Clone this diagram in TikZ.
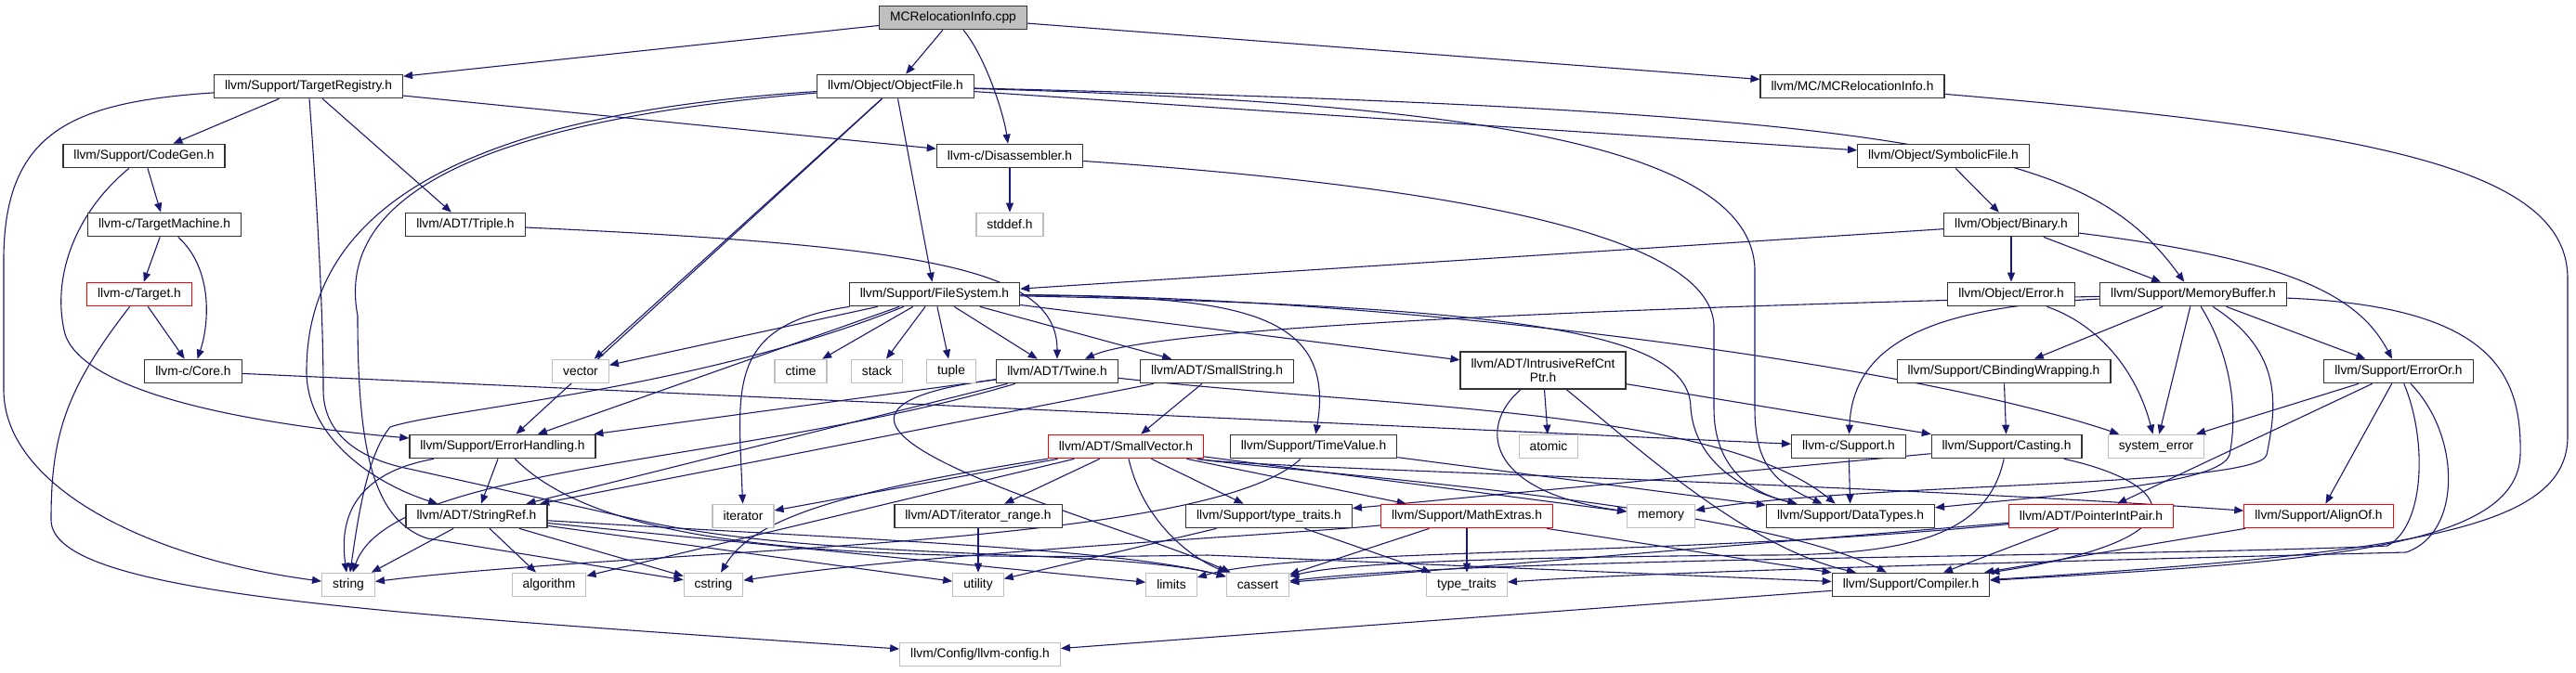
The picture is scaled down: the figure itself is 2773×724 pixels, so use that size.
\documentclass[tikz,border=0pt]{standalone}
\usepackage{fontspec}
\setmainfont{Liberation Sans}
\usetikzlibrary{arrows.meta, backgrounds}
\definecolor{midblue}{HTML}{191970}
\definecolor{sysgray}{HTML}{BFBFBF}
\newcommand{\graphfont}{\fontsize{13.8pt}{15.5pt}\selectfont}
\tikzset{
  hdr/.style={draw=black!80, fill=white, font=\graphfont, line width=1.2pt,
              minimum height=25.5pt, inner xsep=11.5pt, inner ysep=0pt},
  flow/.style={-{Triangle[length=10pt,width=8pt]}, line width=1.1pt, color=midblue},
}

\begin{document}
\begin{tikzpicture}[x=1pt, y=-1pt,
        sys/.style={hdr,draw=sysgray},
        trunc/.style={hdr,draw=red},
        root/.style={hdr,fill=sysgray}]
  \useasboundingbox (0,0) rectangle (2773,724);
  \node[root] (main) at (1026,19) {MCRelocationInfo.cpp};
  \node[hdr] (treg) at (332,93) {llvm/Support/TargetRegistry.h};
  \node[hdr] (objf) at (964,93) {llvm/Object/ObjectFile.h};
  \node[hdr] (mcri) at (1994,93) {llvm/MC/MCRelocationInfo.h};
  \node[hdr] (cgen) at (155,168) {llvm/Support/CodeGen.h};
  \node[hdr] (disa) at (1087,168) {llvm-c/Disassembler.h};
  \node[hdr] (symf) at (2092,168) {llvm/Object/SymbolicFile.h};
  \node[hdr] (tmach) at (177,242) {llvm-c/TargetMachine.h};
  \node[hdr] (triple) at (501,242) {llvm/ADT/Triple.h};
  \node[sys] (stddef) at (1087,242) {stddef.h};
  \node[hdr] (binary) at (2165,242) {llvm/Object/Binary.h};
  \node[trunc] (target) at (150,317) {llvm-c/Target.h};
  \node[hdr] (fsys) at (1006,317) {llvm/Support/FileSystem.h};
  \node[hdr] (oerr) at (2165,317) {llvm/Object/Error.h};
  \node[hdr] (membuf) at (2361,317) {llvm/Support/MemoryBuffer.h};
  \node[hdr] (core) at (208,400) {llvm-c/Core.h};
  \node[sys] (vector) at (625,400) {vector};
  \node[sys] (ctime) at (862,400) {ctime};
  \node[sys] (stack) at (944,400) {stack};
  \node[sys] (tuple) at (1024,400) {tuple};
  \node[hdr] (twine) at (1138,400) {llvm/ADT/Twine.h};
  \node[hdr] (sstr) at (1310,400) {llvm/ADT/SmallString.h};
  \node[hdr,align=center,minimum height=40pt] (irc) at (1661,399) {llvm/ADT/IntrusiveRefCnt\\Ptr.h};
  \node[hdr] (cbw) at (2157,400) {llvm/Support/CBindingWrapping.h};
  \node[hdr] (erroror) at (2582,400) {llvm/Support/ErrorOr.h};
  \node[hdr] (errh) at (541,481) {llvm/Support/ErrorHandling.h};
  \node[trunc] (svec) at (1212,481) {llvm/ADT/SmallVector.h};
  \node[hdr] (tval) at (1414,481) {llvm/Support/TimeValue.h};
  \node[sys] (atomic) at (1667,481) {atomic};
  \node[hdr] (csup) at (1990,481) {llvm-c/Support.h};
  \node[hdr] (cast) at (2160,481) {llvm/Support/Casting.h};
  \node[sys] (syserr) at (2321,481) {system\_error};
  \node[hdr] (sref) at (513,556) {llvm/ADT/StringRef.h};
  \node[sys] (iter) at (800,556) {iterator};
  \node[hdr] (irange) at (1053,556) {llvm/ADT/iterator\_range.h};
  \node[hdr] (ttraitsh) at (1366,556) {llvm/Support/type\_traits.h};
  \node[trunc] (mathx) at (1579,556) {llvm/Support/MathExtras.h};
  \node[sys] (memory) at (1788,556) {memory};
  \node[hdr] (dtypes) at (1992,556) {llvm/Support/DataTypes.h};
  \node[trunc] (pip) at (2251,556) {llvm/ADT/PointerIntPair.h};
  \node[trunc] (alignof) at (2496,556) {llvm/Support/AlignOf.h};
  \node[sys] (string) at (375,630) {string};
  \node[sys] (algo) at (591,630) {algorithm};
  \node[sys] (cstring) at (768,630) {cstring};
  \node[sys] (utility) at (1053,630) {utility};
  \node[sys] (limits) at (1261,630) {limits};
  \node[sys] (cassert) at (1354,630) {cassert};
  \node[sys] (ttraits) at (1579,630) {type\_traits};
  \node[hdr] (compiler) at (2057,630) {llvm/Support/Compiler.h};
  \node[sys] (lconf) at (1055,705) {llvm/Config/llvm-config.h};
  \begin{scope}[on background layer]
  \draw[flow] (main) -- (treg);
  \draw[flow] (main) -- (objf);
  \draw[flow] (main) .. controls (1060,60) and (1080,120) .. (disa);
  \draw[flow] (main) -- (mcri);
  \draw[flow] (treg) -- (cgen);
  \draw[flow] (treg) -- (triple);
  \draw[flow] (treg) -- (disa);
  \draw[flow] (treg) .. controls (80,110) and (4,140) .. (4,280) -- (4,420) .. controls (4,520) and (150,600) .. (string);
  \draw[flow] (treg) .. controls (340,200) and (348,330) .. (348,420) .. controls (348,470) and (390,495) .. (440,505) -- (700,563) .. controls (900,605) and (1200,590) .. (cassert);
  \draw[flow] (cgen) -- (tmach);
  \draw[flow] (cgen) .. controls (80,230) and (55,300) .. (70,360) .. controls (90,420) and (250,455) .. (errh);
  \draw[flow] (tmach) -- (target);
  \draw[flow] (tmach) .. controls (230,290) and (225,350) .. (core);
  \draw[flow] (target) -- (core);
  \draw[flow] (target) .. controls (70,420) and (55,470) .. (55,560) .. controls (55,640) and (400,660) .. (lconf);
  \draw[flow] (core) -- (csup);
  \draw[flow] (triple) .. controls (1000,265) and (1138,290) .. (twine);
  \draw[flow] (disa) -- (stddef);
  \draw[flow] (disa) .. controls (1550,200) and (1840,250) .. (1845,350) -- (1845,440) .. controls (1845,500) and (1880,530) .. (dtypes);
  \draw[flow] (objf) -- (fsys);
  \draw[flow] (objf) -- (symf);
  \draw[flow] (objf) .. controls (2100,120) and (2250,165) .. (membuf);
  \draw[flow] (objf) .. controls (1550,110) and (1885,150) .. (1889,290) -- (1889,440) .. controls (1889,500) and (1910,520) .. (dtypes);
  \draw[flow] (objf) -- (errh);
  \draw[flow] (objf) -- (vector);
  \draw[flow] (objf) .. controls (550,120) and (330,200) .. (330,400) .. controls (330,470) and (400,520) .. (sref);
  \draw[flow] (objf) .. controls (520,130) and (360,210) .. (385,340) .. controls (385,480) and (400,560) .. (460,580) -- (cstring);
  \draw[flow] (symf) -- (binary);
  \draw[flow] (binary) -- (fsys);
  \draw[flow] (binary) -- (oerr);
  \draw[flow] (binary) -- (membuf);
  \draw[flow] (binary) .. controls (2470,280) and (2540,320) .. (erroror);
  \draw[flow] (oerr) .. controls (2260,350) and (2300,400) .. (syserr);
  \draw[flow] (fsys) -- (ctime);
  \draw[flow] (fsys) -- (stack);
  \draw[flow] (fsys) -- (tuple);
  \draw[flow] (fsys) -- (twine);
  \draw[flow] (fsys) -- (sstr);
  \draw[flow] (fsys) -- (vector);
  \draw[flow] (fsys) -- (errh);
  \draw[flow] (fsys) -- (irc);
  \draw[flow] (fsys) .. controls (750,420) and (480,440) .. (420,460) .. controls (395,490) and (385,560) .. (string);
  \draw[flow] (fsys) .. controls (780,350) and (795,420) .. (iter);
  \draw[flow] (fsys) .. controls (1500,320) and (2050,390) .. (syserr);
  \draw[flow] (fsys) .. controls (1320,320) and (1440,330) .. (tval);
  \draw[flow] (fsys) .. controls (1650,330) and (1820,360) .. (1820,440) .. controls (1825,500) and (1880,530) .. (dtypes);
  \draw[flow] (membuf) .. controls (1800,330) and (1250,350) .. (twine);
  \draw[flow] (membuf) .. controls (2100,330) and (1995,360) .. (csup);
  \draw[flow] (membuf) -- (cbw);
  \draw[flow] (membuf) -- (syserr);
  \draw[flow] (membuf) -- (erroror);
  \draw[flow] (membuf) .. controls (2400,380) and (2410,440) .. (2400,490) .. controls (2390,520) and (2250,530) .. (dtypes);
  \draw[flow] (membuf) .. controls (2460,380) and (2450,440) .. (2440,490) .. controls (2430,525) and (2000,520) .. (memory);
  \draw[flow] (membuf) .. controls (2680,330) and (2715,400) .. (2713,490) .. controls (2710,590) and (2500,605) .. (compiler);
  \draw[flow] (mcri) .. controls (2550,140) and (2764,180) .. (2764,300) -- (2764,470) .. controls (2764,570) and (2600,595) .. (compiler);
  \draw[flow] (erroror) -- (syserr);
  \draw[flow] (erroror) -- (alignof);
  \draw[flow] (erroror) -- (pip);
  \draw[flow] (erroror) .. controls (2612,470) and (2612,565) .. (2570,588) .. controls (2300,600) and (1600,600) .. (cassert);
  \draw[flow] (erroror) .. controls (2650,470) and (2650,575) .. (2590,595) .. controls (2200,605) and (1800,615) .. (ttraits);
  \draw[flow] (cbw) -- (cast);
  \draw[flow] (cast) -- (ttraitsh);
  \draw[flow] (cast) .. controls (2140,575) and (2060,598) .. (1900,598) .. controls (1650,600) and (1450,605) .. (cassert);
  \draw[flow] (cast) .. controls (2340,520) and (2380,580) .. (compiler);
  \draw[flow] (csup) -- (dtypes);
  \draw[flow] (twine) -- (sref);
  \draw[flow] (twine) -- (errh);
  \draw[flow] (twine) .. controls (800,500) and (420,500) .. (string);
  \draw[flow] (twine) .. controls (760,450) and (1200,560) .. (cassert);
  \draw[flow] (twine) .. controls (1500,440) and (1850,440) .. (dtypes);
  \draw[flow] (sstr) -- (svec);
  \draw[flow] (sstr) -- (sref);
  \draw[flow] (irc) -- (atomic);
  \draw[flow] (irc) .. controls (1590,460) and (1600,530) .. (memory);
  \draw[flow] (irc) .. controls (1760,480) and (1880,590) .. (compiler);
  \draw[flow] (irc) -- (cast);
  \draw[flow] (tval) -- (dtypes);
  \draw[flow] (tval) .. controls (1300,590) and (700,590) .. (string);
  \draw[flow] (errh) .. controls (380,510) and (365,560) .. (string);
  \draw[flow] (errh) -- (sref);
  \draw[flow] (errh) .. controls (650,590) and (900,605) .. (1300,598) -- (compiler);
  \draw[flow] (svec) -- (iter);
  \draw[flow] (svec) -- (algo);
  \draw[flow] (svec) .. controls (900,530) and (810,560) .. (cstring);
  \draw[flow] (svec) -- (irange);
  \draw[flow] (svec) .. controls (1230,560) and (1280,600) .. (cassert);
  \draw[flow] (svec) -- (ttraitsh);
  \draw[flow] (svec) -- (mathx);
  \draw[flow] (svec) -- (memory);
  \draw[flow] (svec) .. controls (1350,505) and (2000,520) .. (alignof);
  \draw[flow] (svec) .. controls (1350,505) and (1880,540) .. (compiler);
  \draw[flow] (sref) -- (string);
  \draw[flow] (sref) -- (algo);
  \draw[flow] (sref) -- (cstring);
  \draw[flow] (sref) -- (utility);
  \draw[flow] (sref) -- (limits);
  \draw[flow] (sref) .. controls (900,580) and (1200,590) .. (cassert);
  \draw[flow] (irange) -- (utility);
  \draw[flow] (ttraitsh) -- (utility);
  \draw[flow] (ttraitsh) -- (ttraits);
  \draw[flow] (mathx) -- (cassert);
  \draw[flow] (mathx) -- (ttraits);
  \draw[flow] (mathx) -- (compiler);
  \draw[flow] (mathx) .. controls (1400,575) and (1000,595) .. (cstring);
  \draw[flow] (pip) -- (cassert);
  \draw[flow] (pip) .. controls (1800,600) and (1400,590) .. (limits);
  \draw[flow] (pip) -- (compiler);
  \draw[flow] (alignof) -- (compiler);
  \draw[flow] (compiler) -- (lconf);
  \end{scope}
\end{tikzpicture}
\end{document}
